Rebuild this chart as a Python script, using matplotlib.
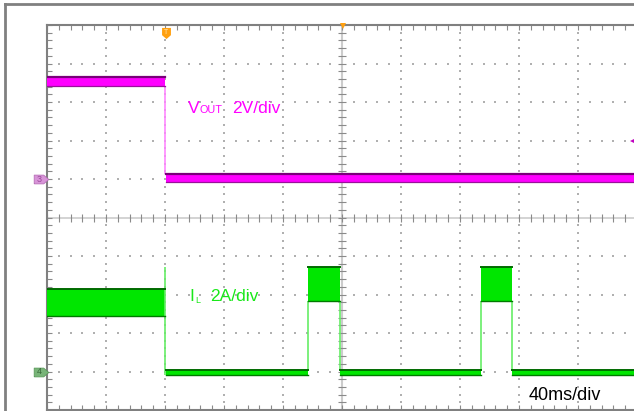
import matplotlib
matplotlib.use('Agg')
import matplotlib.pyplot as plt
import matplotlib.transforms as mtransforms
import numpy as np
from matplotlib.lines import Line2D

plt.rcParams['font.family'] = ['Liberation Sans', 'DejaVu Sans']

# scope settings: 40 ms/div, trigger at centre
t_range = (-200, 200)
# VOUT channel, 2 V/div, zero 6 div above the bottom
v_range = (-12, 8)
# IL channel, 2 A/div, zero 1 div above the bottom
i_range = (-2, 18)

# VOUT ripple envelope, blocks in ms / V
vout_t0 = [-200, -119.6]
vout_t1 = [-120, 200]
vout_hi = [5.30, 0.26]
vout_lo = [4.83, -0.16]
vout_edge_t = [-120]
vout_edge_lo = [0.26]
vout_edge_hi = [4.83]

# IL ripple envelope, blocks in ms / A
il_t0 = [-200, -119.6, -23.0, -1.2, 94.3, 115.5]
il_t1 = [-120.0, -23.3, -1.5, 94.0, 115.2, 200]
il_hi = [4.26, 0.10, 5.45, 0.10, 5.45, 0.10]
il_lo = [2.86, -0.16, 3.64, -0.16, 3.64, -0.16]
il_edge_t = [-120.0, -23.2, -1.4, 94.1, 115.3]
il_edge_lo = [-0.16, 0.10, 0.10, 0.10, 0.10]
il_edge_hi = [5.45, 3.64, 3.64, 3.64, 3.64]

W, H = 634, 411
fig = plt.figure(figsize=(W / 100, H / 100), dpi=100)
ax = fig.add_axes([47 / W, 1 / H, 590 / W, 385 / H])
ax.set_xlim(t_range)
ax.set_ylim(v_range)

# outer frame of the screen
fig.add_artist(Line2D([4.5 / W, 4.5 / W], [0, 1 - 4.5 / H], transform=fig.transFigure,
                      color='#808080', lw=2))
fig.add_artist(Line2D([4.5 / W, 1], [1 - 4.5 / H, 1 - 4.5 / H], transform=fig.transFigure,
                      color='#808080', lw=2))

# graticule
xmaj = np.arange(-200, 201, 40)
xmin = np.arange(-200, 201, 8)
ymaj = np.arange(-12, 9, 2)
ymin = np.arange(-12, 8.01, 0.4)
gx, gy = np.meshgrid(xmaj[1:-1], ymin)
keep = gx != 0
ax.scatter(gx[keep], gy[keep], s=1.2, marker='s', color='#b0b0b0', lw=0, zorder=1)
gx, gy = np.meshgrid(xmin, ymaj[1:-1])
keep = gy != -2
ax.scatter(gx[keep], gy[keep], s=1.2, marker='s', color='#b0b0b0', lw=0, zorder=1)

ax.axvline(0, color='#cccccc', lw=1.5, zorder=1)
ax.axhline(-2, color='#cccccc', lw=1.2, zorder=1)
ax.plot(xmin, np.full(len(xmin), -2.0), ls='', marker='|', ms=6, mew=0.8, color='#8a8a8a', zorder=1)
ax.plot(np.zeros(len(ymin)), ymin, ls='', marker='_', ms=6, mew=0.8, color='#8a8a8a', zorder=1)

ax.set_xticks(xmin)
ax.set_yticks(ymin)
ax.tick_params(direction='in', length=3.5, width=0.8, color='#8a8a8a',
               top=True, right=True, labelbottom=False, labelleft=False)
for s in ax.spines.values():
    s.set_color('#808080')
    s.set_linewidth(1.5)

ax2 = ax.twinx()
ax2.set_ylim(i_range)
ax2.set_axis_off()

# VOUT trace
for t0, t1, lo, hi in zip(vout_t0, vout_t1, vout_lo, vout_hi):
    ax.fill_between([t0, t1], [lo, lo], [hi, hi], color='#ff00ff', lw=0, zorder=3)
    ax.plot([t0, t1], [hi, hi], color='#7a007a', lw=1.6, zorder=4)
    ax.plot([t0, t1], [lo, lo], color='#9a109a', lw=0.9, zorder=4)
ax.vlines(vout_edge_t, vout_edge_lo, vout_edge_hi, color='#ff88ff', lw=1.2, zorder=3)

# IL trace
for t0, t1, lo, hi in zip(il_t0, il_t1, il_lo, il_hi):
    ax2.fill_between([t0, t1], [lo, lo], [hi, hi], color='#00e600', lw=0, zorder=3)
    ax2.plot([t0, t1], [hi, hi], color='#006a00', lw=1.4, zorder=4)
    ax2.plot([t0, t1], [lo, lo], color='#007a00', lw=1.0, zorder=4)
ax2.vlines(il_edge_t, il_edge_lo, il_edge_hi, color='#66ee66', lw=1.2, zorder=3)

# channel markers on the left edge
pent = [(-1, -0.6), (0.3, -0.6), (1, 0), (0.3, 0.6), (-1, 0.6), (-1, -0.6)]
left_v = mtransforms.blended_transform_factory(ax.transAxes, ax.transData)
left_i = mtransforms.blended_transform_factory(ax2.transAxes, ax2.transData)
ax.plot([-6 / 590], [0], marker=pent, ms=10.5, color='#d894d8', mec='#b870b8', mew=0.6,
        transform=left_v, clip_on=False, zorder=5)
ax.text(-8 / 590, 0, '3', transform=left_v, fontsize=6.5, color='#9a4a9a',
        ha='center', va='center', clip_on=False, zorder=6)
ax2.plot([-6 / 590], [0], marker=pent, ms=10.5, color='#78b478', mec='#5a9a5a', mew=0.6,
         transform=left_i, clip_on=False, zorder=5)
ax2.text(-8 / 590, 0, '4', transform=left_i, fontsize=6.5, color='#3a6a3a',
         ha='center', va='center', clip_on=False, zorder=6)

# trigger markers
top_t = mtransforms.blended_transform_factory(ax.transData, ax.transAxes)
tdown = [(-0.8, 1), (0.8, 1), (0.8, -0.3), (0, -1), (-0.8, -0.3), (-0.8, 1)]
ax.plot([-119.4], [1 - 8.5 / 385], marker=tdown, ms=8, color='#ffa010', mew=0,
        transform=top_t, clip_on=False, zorder=5)
ax.text(-119.4, 1 - 8 / 385, 'T', transform=top_t, fontsize=5, color='#ffe6b0',
        ha='center', va='center', zorder=6)
ax.plot([0.7], [1 - 1.5 / 385], marker='v', ms=5, color='#ffa010', mew=0,
        transform=top_t, clip_on=False, zorder=5)
right_v = mtransforms.blended_transform_factory(ax.transAxes, ax.transData)
ax.plot([586 / 590], [2], marker='<', ms=4, color='#c000c0', mew=0,
        transform=right_v, clip_on=False, zorder=5)

# labels
def ptext(x, y, s, size, color):
    fig.text(x / W, 1 - y / H, s, fontsize=size, color=color, va='baseline', ha='left')

ptext(187.5, 113, 'V', 12.5, '#ff00ff')
ptext(199, 113, 'OUT', 7.8, '#ff00ff')
ptext(232.5, 113, '2V/div', 12.5, '#ff00ff')
ptext(189.5, 300.5, 'I', 12.5, '#18e818')
ptext(195, 302.5, 'L', 6.5, '#18e818')
ptext(210.5, 300.5, '2A/div', 12.5, '#18e818')
ptext(528.5, 400, '40ms/div', 13, 'black')

fig.savefig('out.png', dpi=100)
